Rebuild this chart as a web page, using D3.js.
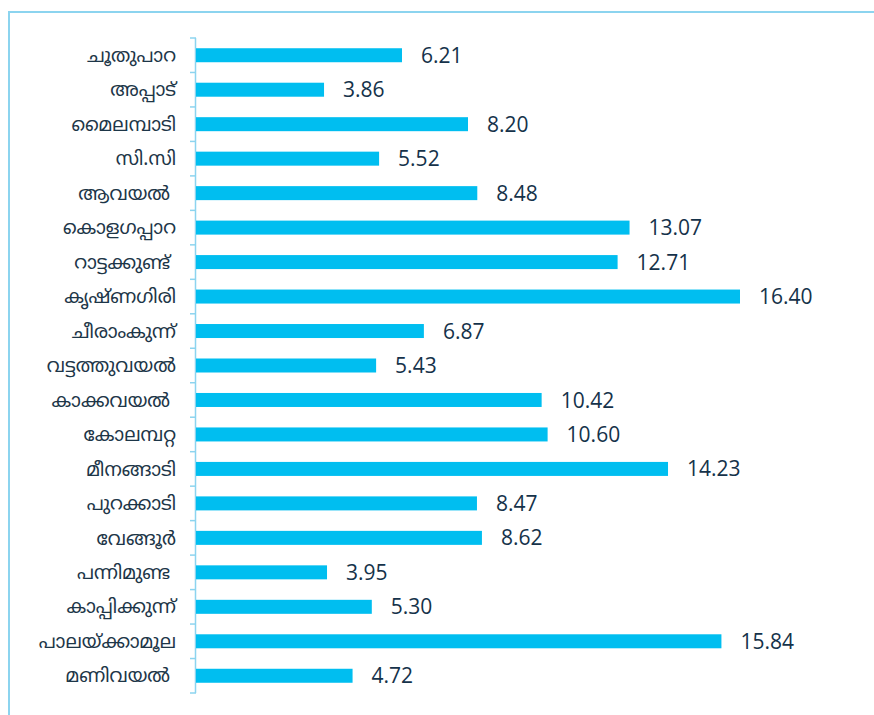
<!doctype html>
<html>
  <head>
    <meta charset="utf-8">
    <script src="https://cdn.jsdelivr.net/npm/d3@7/dist/d3.min.js"></script>
    <style>
      body { margin: 0; background: #fff; }
      svg { display: block; }
    </style>
  </head>
  <body>
    <svg id="chart" width="874" height="715"></svg>

    <script>
      // places, top to bottom
      var places = [
        "ചൂതുപാറ", "അപ്പാട്", "മൈലമ്പാടി", "സി.സി", "ആവയൽ ",
        "കൊളഗപ്പാറ", "റാട്ടക്കുണ്ട് ", "കൃഷ്ണഗിരി", "ചീരാംകുന്ന്", "വട്ടത്തുവയൽ",
        "കാക്കവയൽ ", "കോലമ്പറ്റ", "മീനങ്ങാടി", "പുറക്കാടി", "വേങ്ങൂർ",
        "പന്നിമുണ്ട ", "കാപ്പിക്കുന്ന്", "പാലയ്ക്കാമൂല", "മണിവയൽ "
      ];
      var values = [
        6.21, 3.86, 8.20, 5.52, 8.48,
        13.07, 12.71, 16.40, 6.87, 5.43,
        10.42, 10.60, 14.23, 8.47, 8.62,
        3.95, 5.30, 15.84, 4.72
      ];

      var rows = places.map(function(p, i) { return { name: p, value: values[i] }; });

      var svg = d3.select("#chart");

      // frame round the plot
      svg.append("path")
        .attr("d", "M9,715 V12 H874")
        .attr("fill", "none")
        .attr("stroke", "#8cd4ef")
        .attr("stroke-width", 2);

      var x = d3.scaleLinear().domain([0, 16.40]).range([196, 740]);
      var plotTop = 38, plotBottom = 693;
      var band = (plotBottom - plotTop) / places.length;
      var yMid = function(i) { return plotTop + band * (i + 0.5); };

      // category axis
      var axis = svg.append("g");
      axis.append("line")
        .attr("x1", 195.5).attr("x2", 195.5)
        .attr("y1", plotTop).attr("y2", plotBottom)
        .attr("stroke", "#8cd4ef").attr("stroke-width", 1.5);

      axis.selectAll("line.tick")
        .data(d3.range(places.length + 1))
        .enter()
        .append("line")
        .attr("class", "tick")
        .attr("x1", 190).attr("x2", 196)
        .attr("y1", function(i) { return plotTop + i * band; })
        .attr("y2", function(i) { return plotTop + i * band; })
        .attr("stroke", "#8cd4ef").attr("stroke-width", 1.5);

      svg.selectAll("text.cat")
        .data(rows)
        .enter()
        .append("text")
        .attr("class", "cat")
        .attr("x", 176)
        .attr("y", function(d, i) { return yMid(i); })
        .attr("dy", "0.35em")
        .attr("text-anchor", "end")
        .attr("fill", "#1d3648")
        .style("white-space", "pre")
        .style("font-family", "'Noto Sans Malayalam', 'Noto Sans', sans-serif")
        .style("font-size", "19px")
        .text(function(d) { return d.name; });

      svg.selectAll("rect.bar")
        .data(rows)
        .enter()
        .append("rect")
        .attr("class", "bar")
        .attr("x", x(0))
        .attr("y", function(d, i) { return yMid(i) - 7; })
        .attr("width", function(d) { return x(d.value) - x(0); })
        .attr("height", 14)
        .attr("fill", "#00bef0");

      svg.selectAll("text.val")
        .data(rows)
        .enter()
        .append("text")
        .attr("class", "val")
        .attr("x", function(d) { return x(d.value) + 19; })
        .attr("y", function(d, i) { return yMid(i); })
        .attr("dy", "0.36em")
        .attr("fill", "#15324a")
        .style("font-family", "'Open Sans', sans-serif")
        .style("font-size", "21px")
        .text(function(d) { return d.value.toFixed(2); });
    </script>
  </body>
</html>
